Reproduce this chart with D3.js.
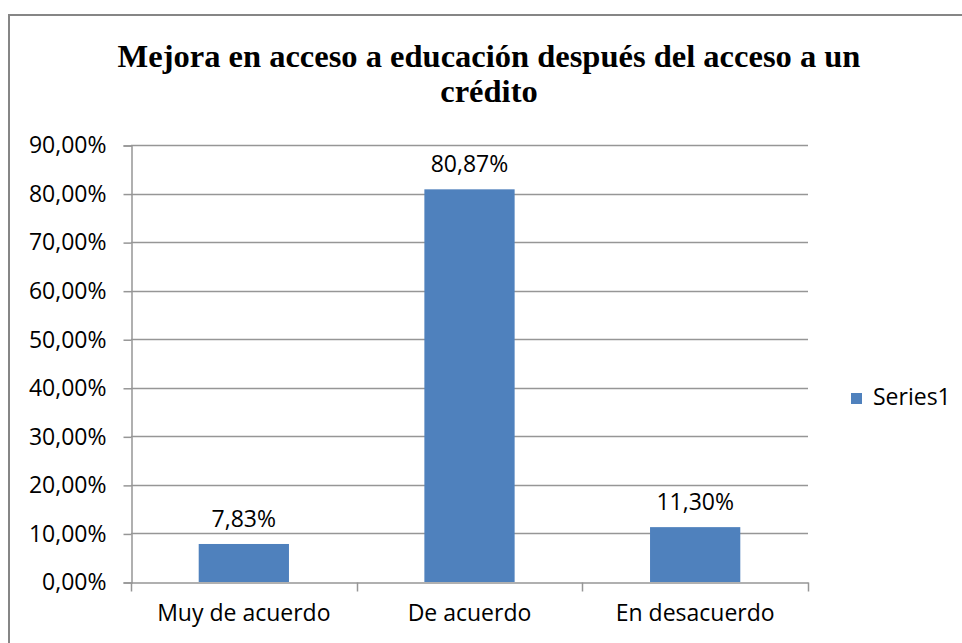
<!DOCTYPE html>
<html>
<head>
<meta charset="utf-8">
<script src="https://cdn.jsdelivr.net/npm/d3@7"></script>
<style>
  body { margin: 0; background: #fff; }
</style>
</head>
<body>
<div class="graph-container"></div>
<script>
// chart data
const categories = ['Muy de acuerdo', 'De acuerdo', 'En desacuerdo'];
const values = [0.0783, 0.8087, 0.1130];
const yTicks = [0, 0.1, 0.2, 0.3, 0.4, 0.5, 0.6, 0.7, 0.8, 0.9];
const seriesName = 'Series1';
const title = ['Mejora en acceso a educación después del acceso a un', 'crédito'];

// graph constants
const w = 962;
const h = 643;
const plot = { left: 131, right: 808, top: 145, bottom: 582 };
const barColor = '#4f81bd';
const gridColor = '#969696';
const labelFont = '"Open Sans", Lato, sans-serif';
const labelSize = 23;

const svg = d3.select('.graph-container')
    .append('svg')
    .attr('width', w)
    .attr('height', h);

// outer frame
svg.append('rect')
    .attr('x', 9)
    .attr('y', 15)
    .attr('width', w + 20)
    .attr('height', h + 20)
    .attr('fill', '#fff')
    .attr('stroke', '#868686')
    .attr('stroke-width', 2);

// title
svg.append('text')
    .attr('text-anchor', 'middle')
    .attr('font-family', '"Liberation Serif", "Times New Roman", serif')
    .attr('font-weight', 'bold')
    .attr('font-size', 32.5)
    .attr('fill', '#000')
    .selectAll('tspan')
    .data(title)
    .enter()
    .append('tspan')
    .attr('x', 489)
    .attr('y', (d, i) => 67 + i * 35)
    .text(d => d);

// scales
const xScale = d3.scaleBand()
    .domain(categories)
    .range([plot.left, plot.right])
    .paddingInner(0.6)
    .paddingOuter(0.3);
const xBand = d3.scaleBand()
    .domain(categories)
    .range([plot.left, plot.right]);
const yScale = d3.scaleLinear()
    .domain([0, 0.9])
    .range([plot.bottom, plot.top]);

const fmt = v => d3.format('.2f')(v * 100).replace('.', ',') + '%';

// gridlines
svg.append('g')
    .selectAll('line')
    .data(yTicks.slice(1))
    .enter()
    .append('line')
    .attr('x1', plot.left)
    .attr('x2', plot.right)
    .attr('y1', d => Math.round(yScale(d)) + 0.5)
    .attr('y2', d => Math.round(yScale(d)) + 0.5)
    .attr('stroke', gridColor)
    .attr('stroke-width', 1.5);

// bars
svg.selectAll('rect.bar')
    .data(values)
    .enter()
    .append('rect')
    .attr('class', 'bar')
    .attr('x', (d, i) => xScale(categories[i]))
    .attr('y', d => yScale(d))
    .attr('width', xScale.bandwidth())
    .attr('height', d => plot.bottom - yScale(d))
    .attr('fill', barColor);

// data labels
svg.selectAll('text.label')
    .data(values)
    .enter()
    .append('text')
    .attr('class', 'label')
    .attr('x', (d, i) => xScale(categories[i]) + xScale.bandwidth() / 2)
    .attr('y', d => yScale(d) - 17)
    .attr('text-anchor', 'middle')
    .attr('font-family', labelFont)
    .attr('font-size', labelSize)
    .attr('fill', '#000')
    .text(fmt);

// y axis
const yAxis = d3.axisLeft(yScale)
    .tickValues(yTicks)
    .tickSize(8)
    .tickPadding(17)
    .tickFormat(fmt);
const gy = svg.append('g')
    .attr('transform', `translate(${plot.left + 0.5}, 0.5)`)
    .call(yAxis);

// x axis
const xAxis = d3.axisBottom(xBand)
    .tickSize(0)
    .tickPadding(22);
const gx = svg.append('g')
    .attr('transform', `translate(0, ${plot.bottom + 0.5})`)
    .call(xAxis);
// tick marks on band edges
gx.selectAll('.edge')
    .data(d3.range(categories.length + 1))
    .enter()
    .append('line')
    .attr('class', 'edge')
    .attr('x1', i => Math.round(plot.left + i * xBand.step()) + 0.5)
    .attr('x2', i => Math.round(plot.left + i * xBand.step()) + 0.5)
    .attr('y1', 0)
    .attr('y2', 9)
    .attr('stroke', gridColor)
    .attr('stroke-width', 1.5);

[gx, gy].forEach(g => {
    g.select('.domain').attr('stroke', gridColor).attr('stroke-width', 1.5);
    g.selectAll('.tick line').attr('stroke', gridColor).attr('stroke-width', 1.5);
    g.selectAll('.tick text')
        .attr('font-family', labelFont)
        .attr('font-size', labelSize)
        .attr('fill', '#000');
});

// legend
const legend = svg.append('g').attr('transform', 'translate(851, 393)');
legend.append('rect')
    .attr('width', 11)
    .attr('height', 11)
    .attr('fill', barColor);
legend.append('text')
    .attr('x', 22)
    .attr('y', 12)
    .attr('font-family', labelFont)
    .attr('font-size', labelSize)
    .attr('fill', '#000')
    .text(seriesName);
</script>
</body>
</html>
